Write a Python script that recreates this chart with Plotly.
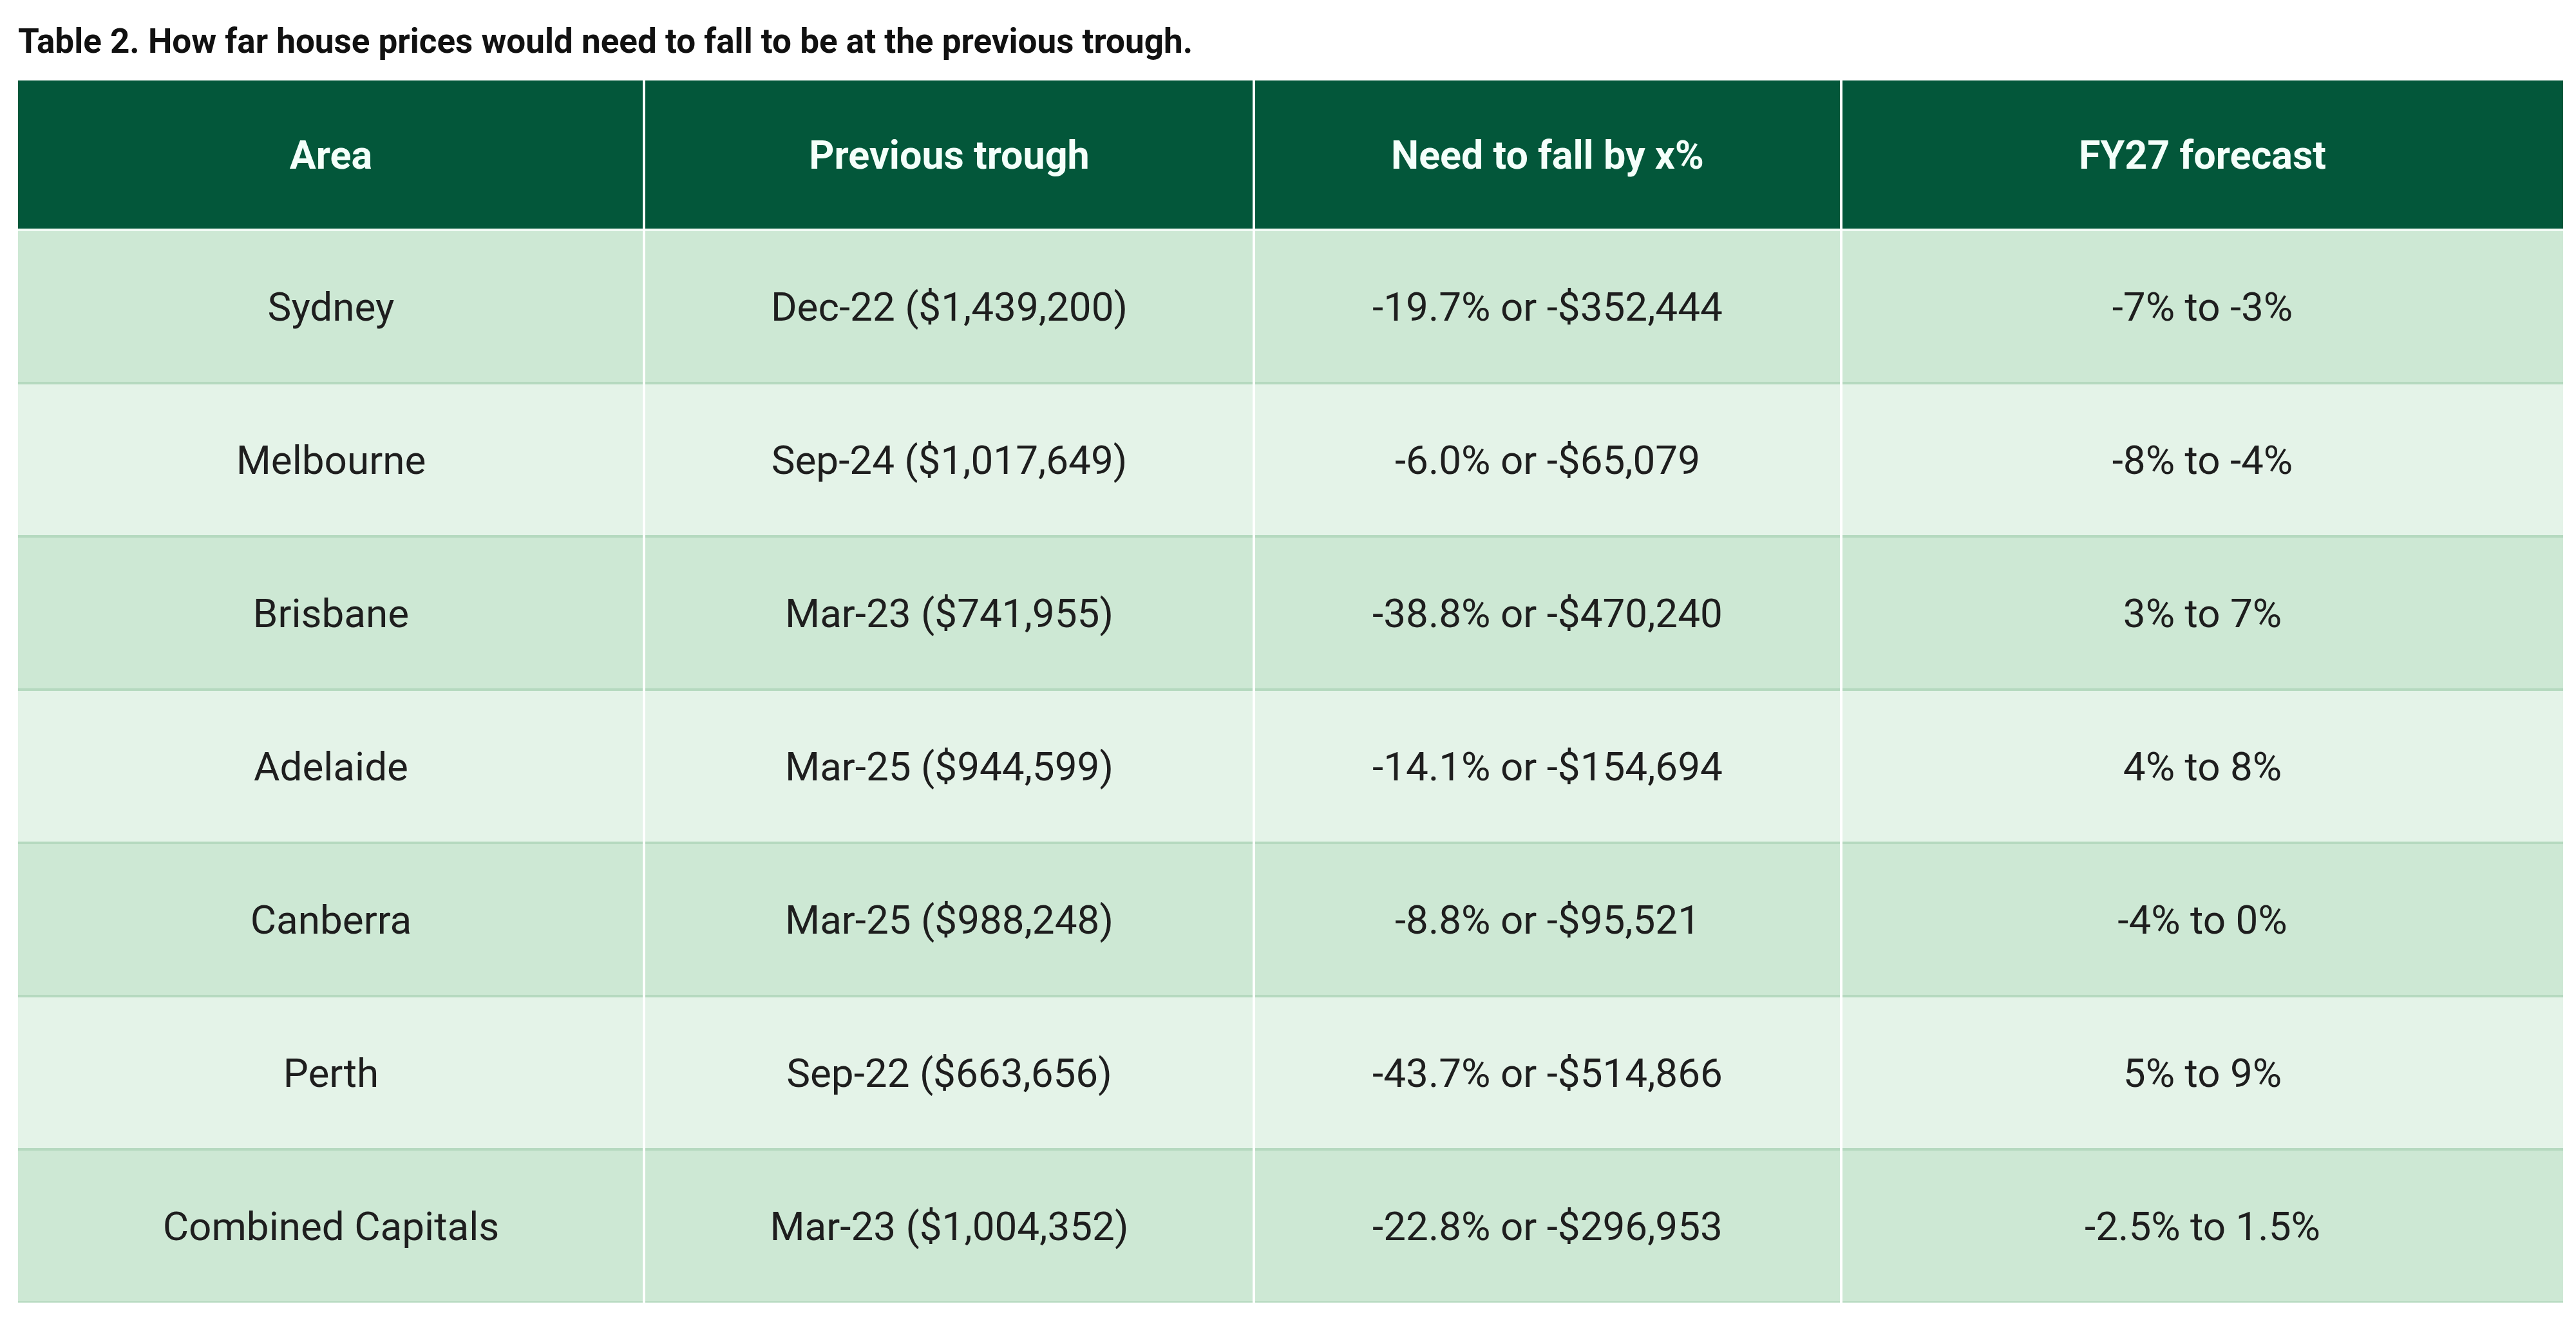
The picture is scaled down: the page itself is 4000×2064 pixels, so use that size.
import plotly.graph_objects as go

# table content
headers = ["Area", "Previous trough", "Need to fall by x%", "FY27 forecast"]
areas = ["Sydney", "Melbourne", "Brisbane", "Adelaide", "Canberra", "Perth", "Combined Capitals"]
troughs = [
    "Dec-22 ($1,439,200)", "Sep-24 ($1,017,649)", "Mar-23 ($741,955)", "Mar-25 ($944,599)",
    "Mar-25 ($988,248)", "Sep-22 ($663,656)", "Mar-23 ($1,004,352)",
]
falls = [
    "-19.7% or -$352,444", "-6.0% or -$65,079", "-38.8% or -$470,240", "-14.1% or -$154,694",
    "-8.8% or -$95,521", "-43.7% or -$514,866", "-22.8% or -$296,953",
]
forecasts = ["-7% to -3%", "-8% to -4%", "3% to 7%", "4% to 8%", "-4% to 0%", "5% to 9%", "-2.5% to 1.5%"]

TITLE = "Table 2. How far house prices would need to fall to be at the previous trough."

# layout (pixels)
W, H = 4000, 2064
col_w = [972, 947, 912, 1121]
head_h = 232
row_h = 238

HEAD_BG = "#03573a"
ROW_DARK = "#cde8d4"
ROW_LIGHT = "#e4f3e8"
SEP = "#b5d9bf"

x_edges = [0]
for w in col_w:
    x_edges.append(x_edges[-1] + w)
n = len(areas)
y_edges = [head_h + i * row_h for i in range(n + 1)]
table_w = x_edges[-1]
table_h = y_edges[-1]

body_text = [list(r) for r in zip(areas, troughs, falls, forecasts)]
body_z = [[i % 2] * len(headers) for i in range(n)]

fig = go.Figure()

# header row
fig.add_trace(go.Heatmap(
    x=x_edges, y=[0, head_h], z=[[0] * len(headers)],
    text=[["<b>" + h + "</b>" for h in headers]], texttemplate="%{text}",
    textfont=dict(family="Roboto", size=61, color="#f4fffa"),
    colorscale=[[0, HEAD_BG], [1, HEAD_BG]], showscale=False, hoverinfo="skip",
))

# body rows (alternating shading)
fig.add_trace(go.Heatmap(
    x=x_edges, y=y_edges, z=body_z,
    text=body_text, texttemplate="%{text}",
    textfont=dict(family="Roboto", size=62, color="#1e1e1e"),
    colorscale=[[0, ROW_DARK], [0.5, ROW_DARK], [0.5, ROW_LIGHT], [1, ROW_LIGHT]],
    zmin=0, zmax=1, showscale=False, hoverinfo="skip",
))

# row separators
for i, y in enumerate(y_edges):
    fig.add_shape(type="line", x0=0, x1=table_w, y0=y, y1=y, xref="x", yref="y",
                  line=dict(color="#f2fbf5" if i == 0 else SEP, width=4), layer="above")
# column dividers
for x in x_edges[1:-1]:
    fig.add_shape(type="line", x0=x, x1=x, y0=0, y1=table_h, xref="x", yref="y",
                  line=dict(color="#ffffff", width=4), layer="above")

fig.update_xaxes(range=[0, table_w], visible=False, fixedrange=True)
fig.update_yaxes(range=[table_h, 0], visible=False, fixedrange=True)

fig.update_layout(
    width=W, height=H,
    margin=dict(l=20, r=W - 20 - table_w, t=117, b=H - 117 - table_h),
    paper_bgcolor="white", plot_bgcolor="white",
    title=dict(text="<b>" + TITLE + "</b>", x=20 / W, xanchor="left",
               y=1 - 55 / H, yanchor="middle",
               font=dict(family="Roboto", size=53, color="#111111")),
)

fig.write_html("out.html")
